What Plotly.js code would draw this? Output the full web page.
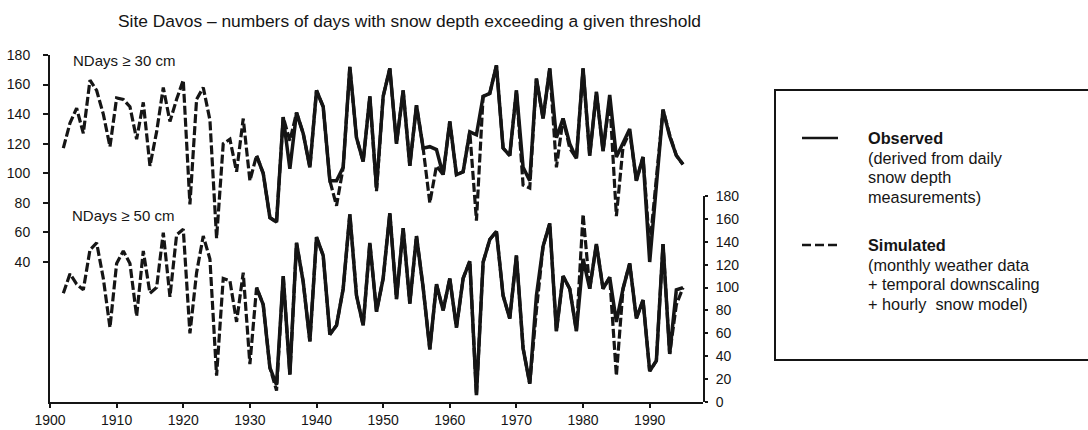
<!DOCTYPE html>
<html>
<head>
<meta charset="utf-8">
<script src="https://cdn.plot.ly/plotly-3.0.1.min.js"></script>
<style>
  html, body { margin: 0; padding: 0; background: #ffffff; }
  #chart { width: 1088px; height: 430px; }
</style>
</head>
<body>
<div id="chart"></div>
<script>
// ---- data ----
const years = [1902,1903,1904,1905,1906,1907,1908,1909,1910,1911,1912,1913,1914,1915,1916,1917,1918,1919,1920,1921,1922,1923,1924,1925,1926,1927,1928,1929,1930,1931,1932,1933,1934,1935,1936,1937,1938,1939,1940,1941,1942,1943,1944,1945,1946,1947,1948,1949,1950,1951,1952,1953,1954,1955,1956,1957,1958,1959,1960,1961,1962,1963,1964,1965,1966,1967,1968,1969,1970,1971,1972,1973,1974,1975,1976,1977,1978,1979,1980,1981,1982,1983,1984,1985,1986,1987,1988,1989,1990,1991,1992,1993,1994,1995];
const obsYears = [1931,1932,1933,1934,1935,1936,1937,1938,1939,1940,1941,1942,1943,1944,1945,1946,1947,1948,1949,1950,1951,1952,1953,1954,1955,1956,1957,1958,1959,1960,1961,1962,1963,1964,1965,1966,1967,1968,1969,1970,1971,1972,1973,1974,1975,1976,1977,1978,1979,1980,1981,1982,1983,1984,1985,1986,1987,1988,1989,1990,1991,1992,1993,1994,1995];

// NDays >= 30 cm (left axis)
const sim30 = [117,134,144,127,163,156,140,118,151,150,
               145,123,148,105,128,158,135,150,163,79,
               150,158,136,56,120,123,101,137,95,112,
               100,70,67,138,122,141,127,104,156,145,
               95,78,104,172,124,108,152,88,152,171,
               120,156,105,146,117,80,105,99,135,99,
               101,128,68,152,154,173,117,112,156,92,
               90,164,137,171,104,137,117,110,171,112,
               155,115,150,71,118,128,95,111,50,98,
               143,126,112,106];
const obs30 = [112,100,70,67,138,103,141,127,104,156,
               145,95,95,104,172,124,108,152,90,152,
               171,120,156,105,146,117,118,116,99,135,
               99,101,128,126,152,154,173,117,112,156,
               104,95,164,137,171,124,137,120,110,171,
               112,155,115,153,111,120,130,95,111,40,
               95,143,125,112,106];

// NDays >= 50 cm (right axis)
const sim50 = [95,112,103,98,133,139,108,65,121,132,
               121,75,132,95,100,148,92,146,151,60,
               113,145,125,23,108,106,70,113,33,100,
               85,30,10,110,24,139,105,53,144,128,
               59,67,99,164,93,67,139,79,108,165,
               90,152,86,145,100,46,103,80,108,65,
               108,123,6,122,142,149,93,73,128,47,
               16,80,136,156,62,110,99,62,164,99,
               138,99,109,23,99,121,73,89,27,36,
               138,42,85,100];
const obs50 = [100,85,30,15,110,24,139,105,53,144,
               128,59,67,99,164,93,67,139,79,108,
               165,90,152,86,145,100,46,103,80,108,
               65,108,123,6,122,142,149,93,73,128,
               47,16,93,136,156,62,110,99,62,125,
               99,138,99,109,70,99,121,73,89,27,
               36,138,42,98,100];

const xTicks = [1900,1910,1920,1930,1940,1950,1960,1970,1980,1990];
const leftTicks = [40,60,80,100,120,140,160,180];
const rightTicks = [0,20,40,60,80,100,120,140,160,180];

const titleText = "Site Davos \u2013 numbers of days with snow depth exceeding a given threshold";
const panelLabels = ["NDays \u2265 30 cm", "NDays \u2265 50 cm"];
const legendObs = ["<b>Observed</b>", "(derived from daily", "snow depth", "measurements)"];
const legendSim = ["<b>Simulated</b>", "(monthly weather data", "+ temporal downscaling", "+ hourly  snow model)"];

// ---- drawing ----
const INK = "#151515";
const FONT = "Liberation Sans, Arial, Helvetica, sans-serif";
const M = {l: 50, r: 385, t: 55, b: 28};
const PW = 1088 - M.l - M.r, PH = 430 - M.t - M.b;
const px = x => (x - M.l) / PW;
const py = y => (430 - M.b - y) / PH;

const solid = {color: INK, width: 3.5};
const dashed = {color: INK, width: 3.2, dash: "9px,3px"};

const traces = [
  {x: obsYears, y: obs30, type: "scatter", mode: "lines", line: solid, yaxis: "y", name: "Observed", showlegend: false, cliponaxis: false},
  {x: years, y: sim30, type: "scatter", mode: "lines", line: dashed, yaxis: "y", name: "Simulated", showlegend: false, cliponaxis: false},
  {x: obsYears, y: obs50, type: "scatter", mode: "lines", line: solid, yaxis: "y2", name: "Observed", showlegend: false},
  {x: years, y: sim50, type: "scatter", mode: "lines", line: dashed, yaxis: "y2", name: "Simulated", showlegend: false}
];

const legBox = {x0: 775, x1: 1100, y0: 90, y1: 360};
const lineGap = 19.5;

const annotations = [
  {text: titleText, x: px(116), y: py(21), xref: "paper", yref: "paper", xanchor: "left", yanchor: "middle", showarrow: false, font: {size: 17.4, color: INK, family: FONT}},
  {text: panelLabels[0], x: px(71), y: py(61), xref: "paper", yref: "paper", xanchor: "left", yanchor: "middle", showarrow: false, font: {size: 15, color: INK, family: FONT}},
  {text: panelLabels[1], x: px(70), y: py(215), xref: "paper", yref: "paper", xanchor: "left", yanchor: "middle", showarrow: false, font: {size: 15, color: INK, family: FONT}}
];
legendObs.forEach((t, i) => annotations.push({text: t, x: px(866), y: py(138 + i * lineGap), xref: "paper", yref: "paper", xanchor: "left", yanchor: "middle", showarrow: false, font: {size: 16.3, color: INK, family: FONT}}));
legendSim.forEach((t, i) => annotations.push({text: t, x: px(866), y: py(245 + i * lineGap), xref: "paper", yref: "paper", xanchor: "left", yanchor: "middle", showarrow: false, font: {size: 16.3, color: INK, family: FONT}}));

const shapes = [
  {type: "rect", xref: "paper", yref: "paper", x0: px(legBox.x0), x1: px(legBox.x1), y0: py(legBox.y1), y1: py(legBox.y0), line: {color: INK, width: 2}, fillcolor: "rgba(0,0,0,0)"},
  {type: "line", xref: "paper", yref: "paper", x0: px(802), x1: px(838), y0: py(138), y1: py(138), line: {color: INK, width: 2.5}},
  {type: "line", xref: "paper", yref: "paper", x0: px(802), x1: px(840), y0: py(245), y1: py(245), line: {color: INK, width: 2.5, dash: "9px,4px"}}
];

const axisFont = {size: 14, color: INK, family: FONT};
const layout = {
  width: 1088, height: 430,
  margin: M,
  paper_bgcolor: "#ffffff", plot_bgcolor: "rgba(0,0,0,0)",
  showlegend: false,
  font: {family: FONT, color: INK},
  xaxis: {
    range: [1900, 1998], tickvals: xTicks, ticktext: xTicks.map(String),
    showgrid: false, zeroline: false, showline: true, linecolor: INK, linewidth: 2,
    ticks: "outside", ticklen: 4, tickwidth: 2, tickcolor: INK, tickfont: axisFont,
    anchor: "y"
  },
  yaxis: {
    range: [-54.7, 180], domain: [0, 1], tickvals: leftTicks, ticktext: leftTicks.map(String),
    showgrid: false, zeroline: false, showline: true, linecolor: INK, linewidth: 2,
    ticks: "outside", ticklen: 5, tickwidth: 2, tickcolor: INK, tickfont: axisFont,
    ticklabelstandoff: 10, anchor: "x"
  },
  yaxis2: {
    range: [0, 180], domain: [0, 206 / PH], side: "right", anchor: "x",
    tickvals: rightTicks, ticktext: rightTicks.map(String),
    showgrid: false, zeroline: false, showline: true, linecolor: INK, linewidth: 2,
    ticks: "outside", ticklen: 3, tickwidth: 2, tickcolor: INK, tickfont: axisFont,
    ticklabelstandoff: 5
  },
  annotations: annotations,
  shapes: shapes
};

Plotly.newPlot("chart", traces, layout, {staticPlot: true, displayModeBar: false});
</script>
</body>
</html>
